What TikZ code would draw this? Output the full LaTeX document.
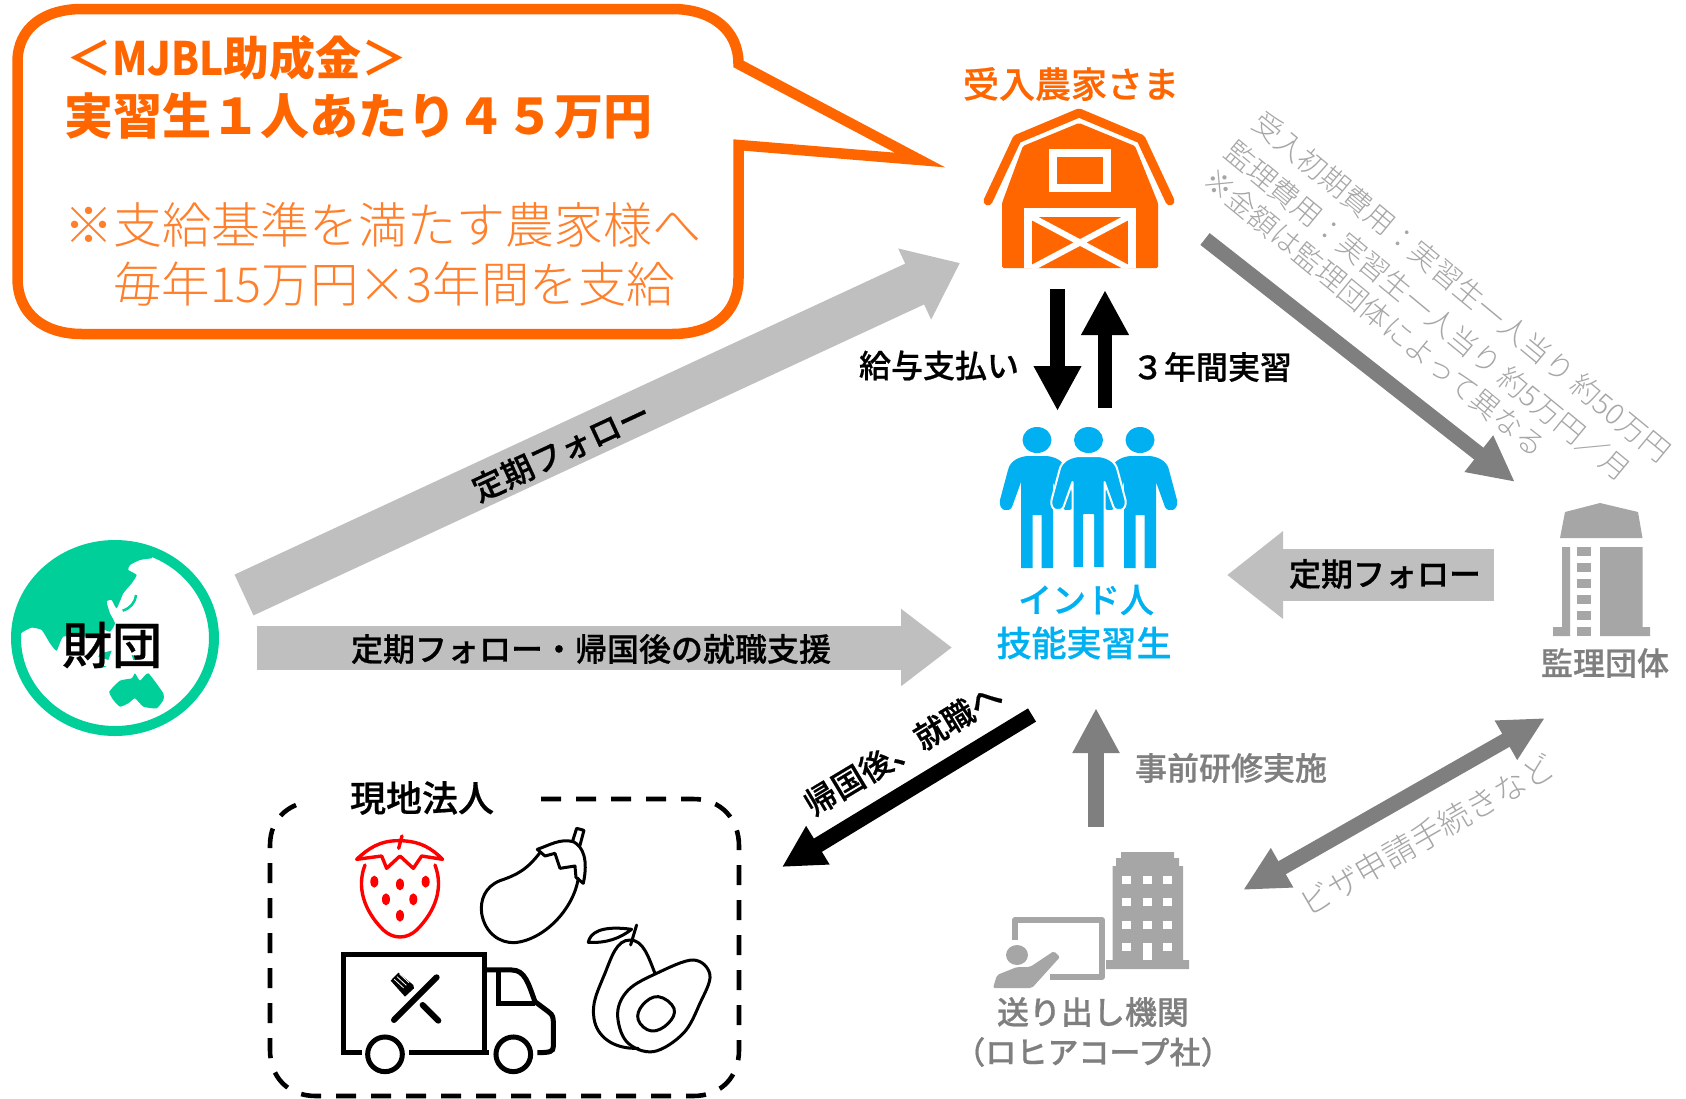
\documentclass[tikz,border=0pt]{standalone}
\usepackage{fontspec}
\usetikzlibrary{arrows.meta}
\newfontfamily\jpfont{Noto Sans CJK JP}
\newfontfamily\jpmed[FakeBold=.6]{Noto Sans CJK JP Medium}
\newfontfamily\jplight{Noto Sans CJK JP Light}
\newcommand{\jpf}[1]{\jpfont\fontsize{#1}{#1}\selectfont}
\newcommand{\jpm}[1]{\jpmed\fontsize{#1}{#1}\selectfont}
\newcommand{\jpl}[1]{\jplight\fontsize{#1}{#1}\selectfont}
\definecolor{farmorange}{HTML}{FF6600}
\definecolor{softorange}{HTML}{FF7F2A}
\definecolor{peopleblue}{HTML}{00B0F0}
\definecolor{globegreen}{HTML}{00CF9A}
\definecolor{lightarrow}{HTML}{BFBFBF}
\definecolor{darkarrow}{HTML}{7F7F7F}
\definecolor{icongray}{HTML}{A6A6A6}
\tikzset{
  bigarrow/.style={draw=lightarrow,line width=#1},
  midarrow/.style={draw=darkarrow,line width=#1},
  blackarrow/.style={draw=black,line width=#1},
  bold32/.style={font=\jpm{32},inner sep=0pt},
  grayreg/.style={font=\jpl{29},text=icongray,inner sep=0pt,anchor=west,rotate=-39.5},
  iconline/.style={line width=3pt,line join=round,line cap=round},
  truckline/.style={line width=5pt,line join=miter}
}
\begin{document}
\begin{tikzpicture}[x=1pt,y=-1pt]
\useasboundingbox (0,0) rectangle (1686,1098);
% callout
\draw[farmorange,line width=10.5pt,line join=miter,fill=white]
  (17.5,62) .. controls (17.5,28) and (44,9) .. (82,9) -- (672,9)
  .. controls (712,9) and (738.5,30) .. (738.5,64) -- (920,160) -- (738.5,145)
  -- (738.5,278) .. controls (738.5,314) and (712,334) .. (672,334) -- (82,334)
  .. controls (44,334) and (17.5,314) .. (17.5,278) -- cycle;
\node[anchor=west,inner sep=0pt,text=farmorange,font=\jpf{46}\bfseries] (title) at (66,58) {{\jpl{46}＜}\scalebox{.88}[1]{MJBL}助成金{\jpl{46}＞}};
\node[anchor=west,inner sep=0pt,text=farmorange,font=\jpf{49}\bfseries] (amount) at (64,116) {実習生１人あたり４５万円};
\node[anchor=west,inner sep=0pt,text=softorange,font=\jpl{49}] (rule) at (64,225) {※支給基準を満たす農家様へ};
\node[anchor=west,inner sep=0pt,text=softorange,font=\jpl{48.4}] (rulenext) at (113,284) {毎年15万円×3年間を支給};
% farm
\node[inner sep=0pt,text=farmorange,font=\jpm{36}] (farm) at (1071,84) {受入農家さま};
\draw[farmorange,line width=9pt,line join=round,line cap=round]
  (988,201) -- (1017,139) -- (1079,113) -- (1141,139) -- (1170,201);
\fill[farmorange,rounded corners=1.5pt] (1079,123) -- (1135,146) -- (1158,203) -- (1158,268)
  -- (1002,268) -- (1002,203) -- (1023,146) -- cycle;
\draw[white,line width=8pt] (1053,153) rectangle (1107,187.5);
\fill[white] (1024,208) rectangle (1136,268);
\fill[farmorange] (1032,217) rectangle (1128,268);
\draw[white,line width=6pt] (1032,217) -- (1128,268) (1128,217) -- (1032,268);
% workers
\foreach \px/\pw in {1037/0,1140/0,1088.5/2}{
\begin{scope}[shift={(\px pt,0pt)}]
\ifdim \pw pt>0pt
  \fill[peopleblue,draw=white,line width=2pt,line join=round]
\else
  \fill[peopleblue]
\fi
  (-16,568) -- (-16,482) -- (-25,507) .. controls (-28,513) and (-39,511) .. (-37,500)
  -- (-29,470) .. controls (-27,460) and (-16,456) .. (-8,456) -- (8,456)
  .. controls (16,456) and (27,460) .. (29,470) -- (37,500)
  .. controls (39,511) and (28,513) .. (25,507) -- (16,482) -- (16,568) -- (4.5,568)
  -- (4.5,515) -- (-4.5,515) -- (-4.5,568) -- cycle;
\fill[peopleblue] (0,440) ellipse [x radius=14.5,y radius=13];
\end{scope}
}
\node[inner sep=0pt,text=peopleblue,font=\jpm{34}] (india) at (1086,600) {インド人};
\node[inner sep=0pt,text=peopleblue,font=\jpm{35}] (trainee) at (1084,643) {技能実習生};
% arrows
\coordinate (fromfund) at (244,595); \coordinate (tofarm) at (960,263);
\draw[bigarrow=45pt,-{Triangle[length=50pt,width=75pt]}] (fromfund) -- (tofarm);
\coordinate (fundrow) at (257,647.5); \coordinate (toindia) at (952,647.5);
\draw[bigarrow=44pt,-{Triangle[length=51pt,width=74pt]}] (fundrow) -- (toindia);
\coordinate (fromoffice) at (1494,575); \coordinate (towork) at (1227,575);
\draw[bigarrow=52pt,-{Triangle[length=56pt,width=84pt]}] (fromoffice) -- (towork);
\coordinate (farmoff) at (1205,239); \coordinate (tooffice) at (1515,482);
\draw[midarrow=15pt,-{Triangle[length=46pt,width=43pt]}] (farmoff) -- (tooffice);
\coordinate (paytop) at (1057.5,289); \coordinate (paytip) at (1057.5,411);
\draw[blackarrow=14.5pt,-{Triangle[length=45pt,width=44.6pt]}] (paytop) -- (paytip);
\coordinate (workbot) at (1105,408); \coordinate (worktip) at (1105,290);
\draw[blackarrow=14.5pt,-{Triangle[length=45pt,width=44.6pt]}] (workbot) -- (worktip);
\coordinate (homeoff) at (1032,715); \coordinate (homeend) at (782,867);
\draw[blackarrow=15.5pt,-{Triangle[length=42pt,width=42pt]}] (homeoff) -- (homeend);
\coordinate (prebot) at (1096,827); \coordinate (pretip) at (1096,708);
\draw[midarrow=15.5pt,-{Triangle[length=45pt,width=44pt]}] (prebot) -- (pretip);
\coordinate (visaa) at (1243,890); \coordinate (visab) at (1545,718);
\draw[midarrow=15pt,{Triangle[length=45pt,width=42pt]}-{Triangle[length=45pt,width=42pt]}] (visaa) -- (visab);
% labels
\node[bold32,rotate=24.9] (follow) at (561,451) {定期フォロー};
\node[bold32] (support) at (591,649) {定期フォロー・帰国後の就職支援};
\node[bold32] (followback) at (1385,574) {定期フォロー};
\node[bold32] (pay) at (939,365.5) {給与支払い};
\node[bold32] (three) at (1212,367) {３年間実習};
\node[bold32,rotate=31] (home) at (903,749) {帰国後、就職へ};
\node[bold32,text=darkarrow] (pretrain) at (1231,768) {事前研修実施};
\node[inner sep=0pt,text=icongray,font=\jpl{32},rotate=30] (visa) at (1427,835) {ビザ申請手続きなど};
\node[grayreg] (costa) at (1257,118) {受入初期費用：実習生一人当り 約50万円};
\node[grayreg] (costb) at (1229,147) {監理費用：実習生一人当り 約5万円／月};
\node[grayreg] (costc) at (1208,175) {※金額は監理団体によって異なる};
% foundation
\begin{scope}
\clip (115,638) ellipse [x radius=99,y radius=93];
\begin{scope}[x=.3333pt,y=-.3333pt,shift={(0pt,-520pt)}]
\fill[globegreen] plot[smooth,tension=.3] coordinates {(455,115) (420,120) (390,135) (385,150) (410,165) (395,190) (370,220) (350,265) (335,240) (320,245) (330,280) (345,310) (330,335) (300,325) (300,350) (250,350) (190,350) (170,392) (150,370) (125,330) (95,323) (70,335) (50,350)} -- (30,350) -- (30,40) -- (480,40) -- cycle;
\draw[globegreen,line width=2.5pt] (368,272) .. controls (390,265) and (405,250) .. (408,225);
\fill[globegreen] (300,400) -- (335,392) -- (325,420) -- (295,410) -- cycle;
\fill[globegreen] (290,430) -- (320,440) -- (300,445) -- cycle;
\fill[globegreen] (395,405) -- (430,415) -- (400,420) -- cycle;
\fill[globegreen] plot[smooth cycle,tension=.3] coordinates {(328,515) (360,482) (395,475) (405,460) (420,482) (445,460) (490,520) (490,540) (470,565) (430,560) (405,535) (385,550) (360,560) (340,540)};
\end{scope}
\end{scope}
\draw[globegreen,line width=10pt] (115,638) ellipse [x radius=99,y radius=93];
\node[inner sep=0pt,font=\jpm{50}] (fund) at (112,645) {財団};
% office
\fill[icongray] (1560,538) -- (1565,512) -- (1600,503) -- (1638,512) -- (1642.5,538) -- cycle;
\fill[icongray] (1562,547) rectangle (1570,636) (1553,627) rectangle (1570,636);
\fill[icongray] (1600,547) rectangle (1642.5,636) (1600,627) rectangle (1650,636);
\foreach \wy in {547,563,579,595,611,627}
  \fill[icongray] (1577,\wy) rectangle (1591,\wy+9);
\node[inner sep=0pt,text=darkarrow,font=\jpm{32}] (office) at (1605,663) {監理団体};
% sending organisation
\fill[icongray] (1121,852) rectangle (1174,860) (1116,858) rectangle (1179,868) (1112.5,866) rectangle (1183,960) (1106,960) rectangle (1189,969);
\foreach \wx in {1126,1147,1167.5}
  \foreach \wy in {880,902,925,947}
    \fill[white] (\wx-4.5,\wy-4) rectangle (\wx+4.5,\wy+4);
\fill[white] (1142.5,945) rectangle (1151.5,960);
\draw[icongray,line width=6pt,line join=round] (1015,940) -- (1015,920) -- (1102,920) -- (1102,977) -- (1050,977);
\fill[icongray] (1017,955) ellipse [x radius=11,y radius=10];
\fill[icongray,rounded corners=2pt] (993,988) -- (997,975) -- (1017,967) -- (1030,967) -- (1054,951) -- (1060,957) -- (1032,988) -- cycle;
\node[inner sep=0pt,text=darkarrow,font=\jpm{32}] (sender) at (1093,1012) {送り出し機関};
\node[inner sep=0pt,text=darkarrow,font=\jpm{31}] (sendername) at (1093,1052) {（ロヒアコープ社）};
% local company
\draw[line width=4.6pt,dash pattern=on 20pt off 15pt] (541,799) -- (693,799) .. controls (722,799) and (739,820) .. (739,846) -- (739,1050) .. controls (739,1076) and (722,1096) .. (693,1096) -- (316,1096) .. controls (287,1096) and (270,1076) .. (270,1050) -- (270,846) .. controls (270,825) and (280,812) .. (296,805);
\node[inner sep=0pt,font=\jpm{36}] (local) at (422,798) {現地法人};
\begin{scope}[x=.3333pt,y=-.3333pt,shift={(250pt,-770pt)}]
% strawberry
\draw[red,line width=3.4pt,line join=round,line cap=round] (345,285) .. controls (320,350) and (340,420) .. (400,480) .. controls (430,508) and (470,508) .. (500,480) .. controls (560,420) and (580,350) .. (555,285);
\draw[red,line width=3.4pt,line join=round,line cap=round] (320,268) .. controls (355,235) and (390,212) .. (445,212) .. controls (510,212) and (545,235) .. (578,268) -- (515,258) -- (490,295) -- (450,258) -- (410,295) -- (395,258) -- cycle (456,198) -- (446,235);
\foreach \sx/\sy in {373/335,450/343,527/335,408/388,490/388,450/437}
  \fill[red] (\sx,\sy) ellipse [x radius=12,y radius=18];
% eggplant
\draw[iconline] (870,248) .. controls (830,300) and (800,315) .. (750,332) .. controls (705,350) and (690,390) .. (695,430) .. controls (705,490) and (750,520) .. (795,518) .. controls (880,510) and (970,420) .. (985,325);
\draw[iconline] (862,238) .. controls (900,225) and (930,205) .. (970,215) .. controls (1000,230) and (1015,270) .. (1000,340) -- (978,322) -- (975,288) -- (930,295) -- (915,250) -- (885,258) -- cycle;
\draw[iconline] (968,213) -- (980,175) -- (1002,181) -- (990,226);
% truck
\draw[truckline] (335,848) -- (280,848) -- (280,553) -- (705,553) -- (705,848);
\draw[truckline] (478,848) -- (718,848);
\draw[truckline] (705,600) -- (785,600) .. controls (825,600) and (835,640) .. (855,695) -- (895,725) .. controls (910,735) and (910,745) .. (910,760) -- (910,830) .. controls (910,845) and (900,848) .. (862,848);
\draw[truckline] (745,600) -- (745,700) -- (855,700);
\draw[truckline] (405,853) circle [radius=52];
\draw[truckline] (790,853) circle [radius=52];
\draw[line width=6pt,line cap=round] (432,750) -- (560,622);
\draw[line width=6pt,line cap=round] (518,705) -- (565,752);
\fill (465,680) -- (492,655) -- (490,645) -- (445,608) -- (422,632) -- cycle;
\foreach \fk in {0,1,2,3}
  \draw[white,line width=.8pt] (433+8*\fk,628-8*\fk) -- (461+8*\fk,654-8*\fk);
% avocado
\draw[iconline] (1215,610) .. controls (1195,560) and (1180,510) .. (1140,510) .. controls (1100,510) and (1085,560) .. (1065,610) .. controls (1040,670) and (1025,700) .. (1032,745) .. controls (1040,800) and (1090,838) .. (1165,835);
\draw[iconline] plot[smooth cycle,tension=.6] coordinates {(1330,570) (1380,615) (1350,700) (1300,790) (1210,845) (1130,815) (1103,730) (1135,660) (1220,610)};
\draw[iconline] plot[smooth cycle,tension=.7] coordinates {(1225,680) (1272,715) (1255,760) (1205,783) (1165,750) (1178,705)};
\draw[iconline] (1015,517) .. controls (1020,490) and (1050,465) .. (1145,478) .. controls (1110,505) and (1070,520) .. (1015,517) -- cycle;
\draw[iconline] (1160,465) -- (1142,525);
\end{scope}
\end{tikzpicture}
\end{document}
